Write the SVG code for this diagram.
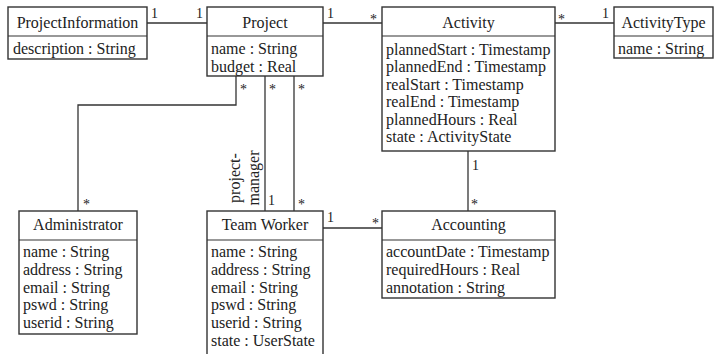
<svg xmlns="http://www.w3.org/2000/svg" width="714" height="354" viewBox="0 0 714 354" font-family="'Liberation Serif', 'DejaVu Serif', serif">
  <style>
    .box { fill: #ffffff; stroke: #333333; stroke-width: 1.4; }
    .div { stroke: #333333; stroke-width: 1.2; }
    .edge { fill: none; stroke: #333333; stroke-width: 1.3; }
    text { font-family: 'Liberation Serif', 'DejaVu Serif', serif; fill: #222222; }
    .title { font-size: 16px; text-anchor: middle; }
    .attr { font-size: 16px; }
    .mult { font-size: 14px; }
    .role { font-size: 16px; text-anchor: middle; }
  </style>
  <rect width="714" height="354" fill="#ffffff"/>

  <!-- associations -->
  <g id="connectors">
    <line class="edge" x1="147" y1="23" x2="207" y2="23"/>
    <line class="edge" x1="323" y1="23" x2="382" y2="23"/>
    <line class="edge" x1="555" y1="23" x2="614" y2="23"/>
    <polyline class="edge" points="236,76 236,105 78,105 78,211"/>
    <line class="edge" x1="265" y1="76" x2="265" y2="211"/>
    <line class="edge" x1="294" y1="76" x2="294" y2="211"/>
    <line class="edge" x1="323" y1="228" x2="382" y2="228"/>
    <line class="edge" x1="468" y1="151" x2="468" y2="211"/>

    <!-- multiplicities -->
    <text class="mult" x="151" y="18">1</text>
    <text class="mult" x="196" y="18">1</text>
    <text class="mult" x="327" y="18">1</text>
    <text class="mult" x="370" y="24">*</text>
    <text class="mult" x="558" y="24">*</text>
    <text class="mult" x="602" y="18">1</text>
    <text class="mult" x="240" y="94">*</text>
    <text class="mult" x="269" y="94">*</text>
    <text class="mult" x="298" y="94">*</text>
    <text class="mult" x="83" y="209">*</text>
    <text class="mult" x="268" y="205">1</text>
    <text class="mult" x="298" y="209">*</text>
    <text class="mult" x="327" y="222">1</text>
    <text class="mult" x="372" y="228">*</text>
    <text class="mult" x="472" y="170">1</text>
    <text class="mult" x="471" y="209">*</text>

    <!-- role name -->
    <text class="role" transform="translate(240,178) rotate(-90)">project-</text>
    <text class="role" transform="translate(259,178) rotate(-90)">manager</text>
  </g>

  <g id="ProjectInformation">
    <rect class="box" x="8" y="7" width="139" height="52"/>
    <line class="div" x1="8" y1="36" x2="147" y2="36"/>
    <text class="title" x="77.5" y="28">ProjectInformation</text>
    <text class="attr" x="13" y="54">description : String</text>
  </g>

  <g id="Project">
    <rect class="box" x="207" y="7" width="116" height="69"/>
    <line class="div" x1="207" y1="36" x2="323" y2="36"/>
    <text class="title" x="265" y="28">Project</text>
    <text class="attr" x="211" y="54">name : String</text>
    <text class="attr" x="211" y="71.6">budget : Real</text>
  </g>

  <g id="Activity">
    <rect class="box" x="382" y="7" width="173" height="144"/>
    <line class="div" x1="382" y1="36" x2="555" y2="36"/>
    <text class="title" x="468.5" y="28">Activity</text>
    <text class="attr" x="386" y="54.5">plannedStart : Timestamp</text>
    <text class="attr" x="386" y="72">plannedEnd : Timestamp</text>
    <text class="attr" x="386" y="89.5">realStart : Timestamp</text>
    <text class="attr" x="386" y="107">realEnd : Timestamp</text>
    <text class="attr" x="386" y="124.5">plannedHours : Real</text>
    <text class="attr" x="386" y="142">state : ActivityState</text>
  </g>

  <g id="ActivityType">
    <rect class="box" x="614" y="7" width="99" height="51"/>
    <line class="div" x1="614" y1="36" x2="713" y2="36"/>
    <text class="title" x="663.5" y="28">ActivityType</text>
    <text class="attr" x="618" y="54">name : String</text>
  </g>

  <g id="Administrator">
    <rect class="box" x="19" y="211" width="118" height="123"/>
    <line class="div" x1="19" y1="240" x2="137" y2="240"/>
    <text class="title" x="78" y="230">Administrator</text>
    <text class="attr" x="23" y="257">name : String</text>
    <text class="attr" x="23" y="274.8">address : String</text>
    <text class="attr" x="23" y="292.6">email : String</text>
    <text class="attr" x="23" y="310.4">pswd : String</text>
    <text class="attr" x="23" y="328.2">userid : String</text>
  </g>

  <g id="TeamWorker">
    <rect class="box" x="207" y="211" width="116" height="152"/>
    <line class="div" x1="207" y1="240" x2="323" y2="240"/>
    <text class="title" x="265" y="230">Team Worker</text>
    <text class="attr" x="211" y="257">name : String</text>
    <text class="attr" x="211" y="274.8">address : String</text>
    <text class="attr" x="211" y="292.6">email : String</text>
    <text class="attr" x="211" y="310.4">pswd : String</text>
    <text class="attr" x="211" y="328.2">userid : String</text>
    <text class="attr" x="211" y="346">state : UserState</text>
  </g>

  <g id="Accounting">
    <rect class="box" x="382" y="211" width="173" height="87"/>
    <line class="div" x1="382" y1="240" x2="555" y2="240"/>
    <text class="title" x="468.5" y="230">Accounting</text>
    <text class="attr" x="386" y="257">accountDate : Timestamp</text>
    <text class="attr" x="386" y="274.8">requiredHours : Real</text>
    <text class="attr" x="386" y="292.6">annotation : String</text>
  </g>
</svg>
